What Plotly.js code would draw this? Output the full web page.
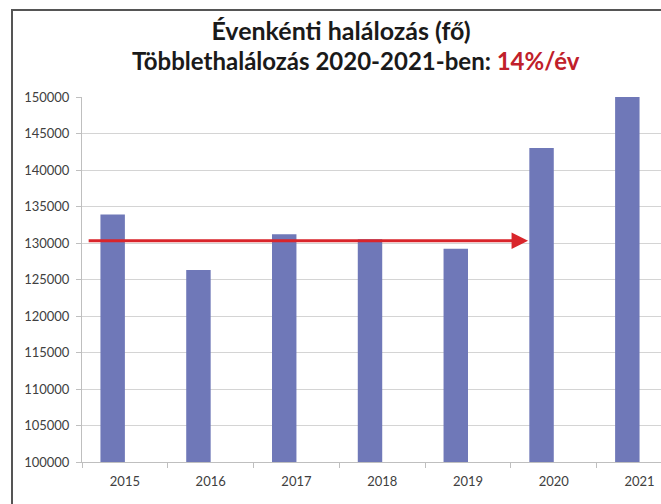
<!DOCTYPE html>
<html>
<head>
<meta charset="utf-8">
<script src="https://cdn.plot.ly/plotly-3.0.1.min.js"></script>
<style>
  html, body { margin: 0; padding: 0; background: #ffffff; }
  #wrap { position: relative; width: 661px; height: 504px; }
  #chart { width: 661px; height: 504px; }
  #frame { position: absolute; left: 11px; top: 9px; right: -5px; bottom: -5px;
           border-left: 2px solid #555; border-top: 2px solid #555; pointer-events: none; }
</style>
</head>
<body>
<div id="wrap">
  <div id="chart"></div>
  <div id="frame"></div>
</div>
<script>
// Data
const years = ["2015", "2016", "2017", "2018", "2019", "2020", "2021"];
const deaths = [133900, 126300, 131200, 130500, 129200, 143000, 150000];
// Red reference arrow: level and span (category index units)
const arrowLevel = 130300;
const arrowFrom = -0.44;
const arrowTo = 4.70;
const titleLine1 = "Évenkénti halálozás (fő)";
const titleLine2 = "Többlethalálozás 2020-2021-ben: ";
const titleHighlight = "14%/év";

const FONT = "Lato, 'Open Sans', sans-serif";

const trace = {
  type: "bar",
  x: years,
  y: deaths,
  width: 0.285,
  offset: -0.285,
  marker: { color: "#6f78b8", line: { width: 0 } },
  hoverinfo: "x+y"
};

const layout = {
  width: 661,
  height: 504,
  margin: { l: 82, r: 0, t: 97, b: 42 },
  paper_bgcolor: "#ffffff",
  plot_bgcolor: "#ffffff",
  showlegend: false,
  font: { family: FONT, color: "#404040", size: 13 },
  title: {
    text: "<b>" + titleLine1 + "</b>",
    font: { family: FONT, size: 25, color: "#1a1a1a" },
    x: 341 / 661, xref: "container", xanchor: "center",
    y: 1 - 31 / 504, yref: "container", yanchor: "middle"
  },
  xaxis: {
    type: "category",
    range: [-0.5, 6.25],
    tickson: "boundaries",
    ticks: "outside",
    ticklen: 5,
    tickcolor: "#bfbfbf",
    showline: true,
    linecolor: "#bfbfbf",
    linewidth: 1,
    showgrid: false,
    ticklabelstandoff: 7,
    tickfont: { family: FONT, size: 13, color: "#404040" },
    fixedrange: true
  },
  yaxis: {
    range: [100000, 150000],
    dtick: 5000,
    tick0: 100000,
    tickformat: "d",
    ticks: "outside",
    ticklen: 5,
    tickcolor: "#bfbfbf",
    showline: true,
    linecolor: "#bfbfbf",
    linewidth: 1,
    showgrid: true,
    gridcolor: "#d4d4d4",
    gridwidth: 1,
    zeroline: false,
    ticklabelstandoff: 4,
    tickfont: { family: FONT, size: 13, color: "#404040" },
    fixedrange: true
  },
  annotations: [
    {
      xref: "paper", yref: "paper",
      x: (356 - 82) / 579, y: 1 + (97 - 61) / 365,
      xanchor: "center", yanchor: "middle",
      showarrow: false,
      text: "<b>" + titleLine2 + "<span style=\"color:#c0202a\">" + titleHighlight + "</span></b>",
      font: { family: FONT, size: 24, color: "#1a1a1a" }
    },
    {
      xref: "x", yref: "y", axref: "x", ayref: "y",
      x: arrowTo, y: arrowLevel,
      ax: arrowFrom, ay: arrowLevel,
      showarrow: true,
      arrowhead: 2,
      arrowsize: 1.1,
      arrowwidth: 3,
      arrowcolor: "#d9252b",
      text: ""
    }
  ]
};

Plotly.newPlot("chart", [trace], layout, { displayModeBar: false, staticPlot: true });
</script>
</body>
</html>
